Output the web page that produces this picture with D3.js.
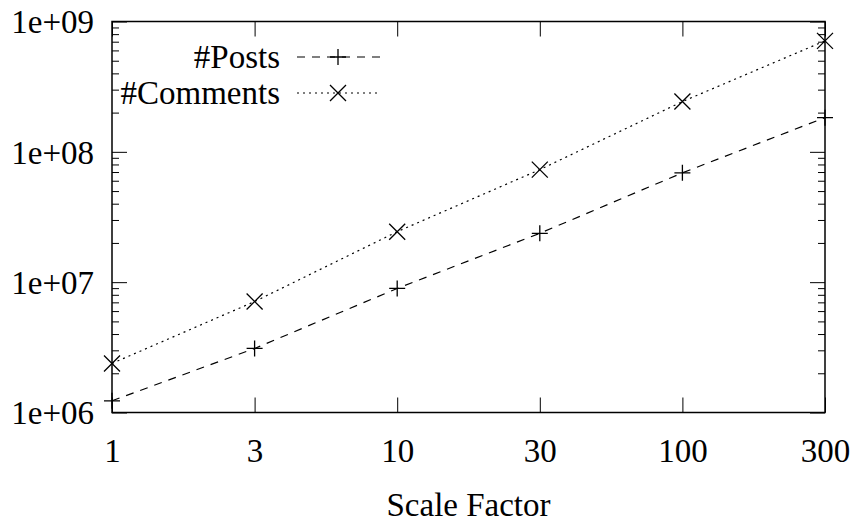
<!DOCTYPE html>
<html>
<head>
<meta charset="utf-8">
<script src="https://cdn.jsdelivr.net/npm/d3@7"></script>
<style>
  body { margin: 0; background: #fff; }
  svg text { font-family: "Liberation Serif", "Times New Roman", serif; }
</style>
</head>
<body>
<svg width="854" height="522"></svg>
<script>
'use strict';

// scale factors (evenly spaced on the x axis)
var factors = ["1", "3", "10", "30", "100", "300"];
var posts = [1.23e6, 3.1e6, 8.95e6, 2.37e7, 6.9e7, 1.83e8];
var comments = [2.38e6, 7.1e6, 2.44e7, 7.3e7, 2.43e8, 7.1e8];
var yMajor = [1e6, 1e7, 1e8, 1e9];

var svg = d3.select("svg"),
  margin = { top: 21.5, right: 29, bottom: 109.5, left: 112 },
  width = +svg.attr("width") - margin.left - margin.right,
  height = +svg.attr("height") - margin.top - margin.bottom;

var fontSize = 33,
  serif = "Liberation Serif";

var x = d3.scalePoint().domain(factors).range([0, width]),
  y = d3.scaleLog().domain([1e6, 1e9]).range([height, 0]);

var yMinor = [];
yMajor.slice(0, -1).forEach(function (d) {
  for (var k = 2; k < 10; k++) yMinor.push(d * k);
});

var g = svg.append("g")
  .attr("transform", "translate(" + margin.left + "," + margin.top + ")");

function clean(sel) {
  sel.select(".domain").remove();
  sel.attr("font-family", serif).attr("font-size", fontSize);
}

// x ticks bottom + labels
g.append("g")
  .attr("transform", "translate(0," + height + ")")
  .call(d3.axisBottom(x).tickSizeInner(-15).tickSizeOuter(0))
  .call(clean)
  .call(function (s) {
    s.selectAll("text").attr("y", 49).attr("dy", null).attr("fill", "#000");
  });

// x ticks top
g.append("g")
  .call(d3.axisTop(x).tickSizeInner(-15).tickSizeOuter(0).tickFormat(""))
  .call(clean);

// y ticks left
g.append("g")
  .call(d3.axisLeft(y).tickValues(yMajor).tickSizeInner(-15).tickSizeOuter(0).tickPadding(18)
    .tickFormat(function (d) { return "1e+0" + Math.round(Math.log10(d)); }))
  .call(clean)
  .call(function (s) {
    s.selectAll("text").attr("fill", "#000").attr("dy", "0.34em");
  });
g.append("g")
  .call(d3.axisLeft(y).tickValues(yMinor).tickSizeInner(-7).tickSizeOuter(0).tickFormat(""))
  .call(clean);

// y ticks right
g.append("g")
  .attr("transform", "translate(" + width + ",0)")
  .call(d3.axisRight(y).tickValues(yMajor).tickSizeInner(-15).tickSizeOuter(0).tickFormat(""))
  .call(clean);
g.append("g")
  .attr("transform", "translate(" + width + ",0)")
  .call(d3.axisRight(y).tickValues(yMinor).tickSizeInner(-7).tickSizeOuter(0).tickFormat(""))
  .call(clean);

g.selectAll(".tick line").attr("stroke", "#000").attr("stroke-width", 1);

// frame
g.append("rect")
  .attr("width", width).attr("height", height)
  .attr("fill", "none").attr("stroke", "#000").attr("stroke-width", 1.5);

// x axis title
svg.append("text")
  .attr("x", margin.left + width / 2).attr("y", 516)
  .attr("text-anchor", "middle").attr("font-size", fontSize)
  .attr("font-family", serif)
  .text("Scale Factor");

var plusPath = "M-8,0H8M0,-8V8",
  crossPath = "M-8,-8L8,8M-8,8L8,-8";

var series = [
  { name: "#Posts", values: posts, dash: "8,7", marker: plusPath },
  { name: "#Comments", values: comments, dash: "2,4", marker: crossPath }
];

var line = d3.line()
  .x(function (d, i) { return x(factors[i]); })
  .y(function (d) { return y(d); });

series.forEach(function (s, si) {
  g.append("path")
    .datum(s.values)
    .attr("fill", "none").attr("stroke", "#000").attr("stroke-width", 1.2)
    .attr("stroke-dasharray", s.dash)
    .attr("d", line);

  g.selectAll(".m" + si)
    .data(s.values)
    .enter().append("path")
    .attr("class", "m" + si)
    .attr("transform", function (d, i) { return "translate(" + x(factors[i]) + "," + y(d) + ")"; })
    .attr("d", s.marker)
    .attr("fill", "none").attr("stroke", "#000").attr("stroke-width", 1.3);

  // legend
  var ly = 57 + si * 36;
  svg.append("text")
    .attr("x", 280).attr("y", ly).attr("dy", "0.34em")
    .attr("text-anchor", "end").attr("font-size", fontSize)
    .attr("font-family", serif)
    .text(s.name);
  svg.append("line")
    .attr("x1", 297).attr("x2", 380).attr("y1", ly).attr("y2", ly)
    .attr("stroke", "#000").attr("stroke-width", 1.2)
    .attr("stroke-dasharray", s.dash);
  svg.append("path")
    .attr("transform", "translate(338," + ly + ")")
    .attr("d", s.marker)
    .attr("fill", "none").attr("stroke", "#000").attr("stroke-width", 1.3);
});
</script>
</body>
</html>
